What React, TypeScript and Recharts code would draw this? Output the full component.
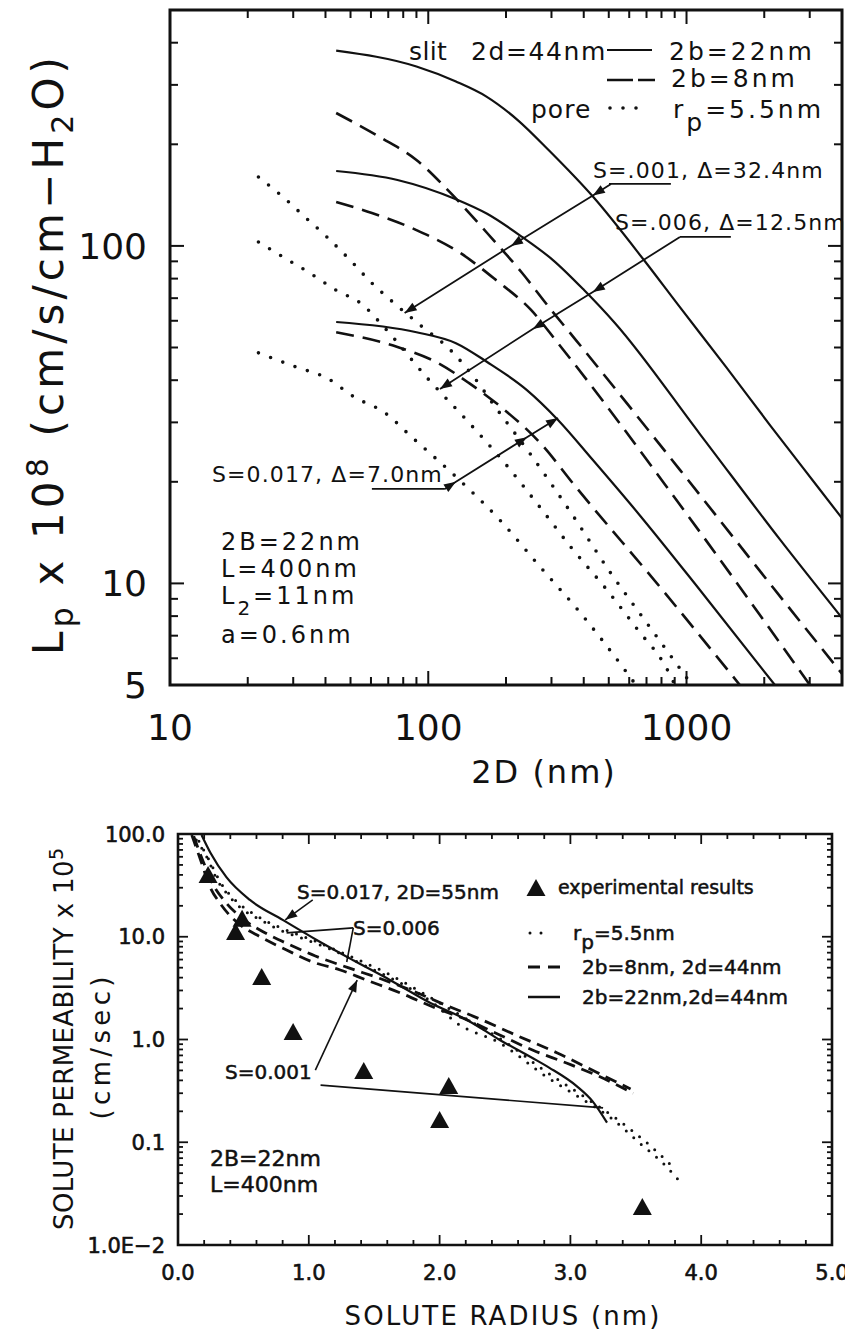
import React from 'react';
import {
  ComposedChart,
  Line,
  LineChart,
  ReferenceArea,
  Scatter,
  XAxis,
  YAxis,
} from 'recharts';

const INK = '#111';
const FONT = '"DejaVu Sans", "Liberation Sans", sans-serif';

// ---------- top panel: Lp vs 2D, log-log ----------
const TOP_X_TICKS = [10, 20, 30, 40, 50, 60, 70, 80, 90, 100, 200, 300, 400, 500, 600, 700, 800, 900, 1000, 2000, 3000];
const TOP_X_LABELS = [10, 100, 1000];
const TOP_Y_TICKS = [5, 6, 7, 8, 9, 10, 20, 30, 40, 50, 60, 70, 80, 90, 100, 200, 300, 400];
const TOP_Y_LABELS = [5, 10, 100];

// slit 2b=22nm (solid)
const SLIT22_S001_X = [44, 90, 128, 168, 222, 293, 434, 684, 922, 1422, 2115, 3142, 4000];
const SLIT22_S001_Y = [379, 340, 307, 277, 236, 192, 140, 90.8, 67.3, 43.8, 29.3, 19.8, 15.6];
const SLIT22_S006_X = [44, 76, 128, 169, 231, 304, 401, 528, 1127, 2299, 4000];
const SLIT22_S006_Y = [166.7, 156.8, 137.5, 124.5, 106.3, 90.8, 74, 59.1, 27.7, 13.5, 7.9];
const SLIT22_S017_X = [44, 90, 128, 169, 241, 318, 434, 660, 1127, 2199];
const SLIT22_S017_Y = [59.5, 55.5, 51.5, 45.3, 37.4, 30.5, 23.2, 15.9, 9.56, 5.0];

// slit 2b=8nm (dashed)
const SLIT8_S001_X = [44, 65, 90, 122, 169, 231, 293, 373, 943, 2362, 4000];
const SLIT8_S001_Y = [247.6, 210, 179.7, 143.5, 109.2, 83.1, 65.9, 52.6, 21.7, 8.93, 5.4];
const SLIT8_S006_X = [44, 60.5, 90, 133, 183, 250, 318, 943, 3004];
const SLIT8_S006_Y = [134.9, 125.2, 111.4, 95.3, 79.2, 64.6, 51.5, 17.1, 5.0];
const SLIT8_S017_X = [44, 76, 109, 144, 198, 271, 373, 789, 1609];
const SLIT8_S017_Y = [55.5, 50.2, 45, 39.2, 32.6, 26.1, 19.3, 9.76, 5.0];

// pore rp=5.5nm (dotted)
const PORE_S001_X = [22, 27.4, 33.3, 40.5, 49.8, 60.5, 73.7, 92.9, 122, 150, 183, 250, 357, 510, 696, 1049];
const PORE_S001_Y = [160, 139.6, 121.8, 106.3, 90.8, 77.6, 67.7, 58.3, 49.1, 40.9, 33.1, 24, 16.2, 10.7, 7.7, 5.0];
const PORE_S006_X = [22, 27.4, 34.8, 43.9, 55.9, 66.8, 100.6, 144, 198, 271, 357, 492, 648, 832, 902];
const PORE_S006_Y = [102.7, 92.7, 83.1, 74, 66.8, 57.9, 40.1, 29.9, 22.7, 16.8, 12.8, 9.56, 7.28, 5.65, 5.0];
const PORE_S017_X = [22, 30.7, 40.5, 51.6, 68, 86.5, 128, 189.5, 271, 387, 552, 637];
const PORE_S017_Y = [48.2, 43.8, 40.6, 35.7, 32, 27.1, 20.7, 15.4, 11.2, 8.2, 5.8, 5.0];

// annotation leader lines (label underline, then arrow to curves)
const UNDER_001_X = [501, 870];
const UNDER_001_Y = [152.6, 152.6];
const ARROW_001_X = [510, 434, 209, 81];
const ARROW_001_Y = [152.6, 141, 100, 63.3];
const ARROW_001_HEAD = [0, 1, 1, 1];
const UNDER_006_X = [943, 1485];
const UNDER_006_Y = [106.3, 106.3];
const ARROW_006_X = [943, 434, 254, 111];
const ARROW_006_Y = [106.3, 73, 56.7, 37.7];
const ARROW_006_HEAD = [0, 1, 1, 1];
const UNDER_017_X = [60.5, 116];
const UNDER_017_Y = [19.05, 19.05];
const ARROW_017_X = [116, 128, 241, 318];
const ARROW_017_Y = [19.05, 20, 27.1, 30.9];
const ARROW_017_HEAD = [0, 1, 1, 1];

// ---------- bottom panel: solute permeability vs radius ----------
const BOT_X_TICKS = [0, 0.2, 0.4, 0.6, 0.8, 1, 1.2, 1.4, 1.6, 1.8, 2, 2.2, 2.4, 2.6, 2.8, 3, 3.2, 3.4, 3.6, 3.8, 4, 4.2, 4.4, 4.6, 4.8, 5];
const BOT_Y_TICKS = [
  0.01, 0.02, 0.03, 0.04, 0.05, 0.06, 0.07, 0.08, 0.09,
  0.1, 0.2, 0.3, 0.4, 0.5, 0.6, 0.7, 0.8, 0.9,
  1, 2, 3, 4, 5, 6, 7, 8, 9,
  10, 20, 30, 40, 50, 60, 70, 80, 90, 100,
];
const BOT_Y_LABEL_VALUES = [0.01, 0.1, 1, 10, 100];
const BOT_Y_LABEL_TEXT = ['1.0E\u22122', '0.1', '1.0', '10.0', '100.0'];

const EXP_X = [0.23, 0.49, 0.44, 0.64, 0.88, 1.42, 2.07, 2.0, 3.55];
const EXP_Y = [39, 14.6, 10.9, 3.97, 1.16, 0.483, 0.345, 0.161, 0.0229];

const B_SOLID_X = [0.18, 0.25, 0.37, 0.55, 0.8, 1.06, 1.34, 1.62, 1.93, 2.21, 2.46, 2.71, 2.84, 3.05, 3.17, 3.28];
const B_SOLID_Y = [98, 65, 38, 22.8, 14.6, 9.3, 5.9, 3.8, 2.27, 1.55, 0.99, 0.66, 0.53, 0.35, 0.25, 0.155];

const B_DASH_A_X = [0.105, 0.17, 0.245, 0.32, 0.42, 0.47, 0.63, 0.83, 1.03, 1.24, 1.44, 1.7, 1.95, 2.21, 2.46, 2.71, 2.97, 3.23, 3.48];
const B_DASH_A_Y = [97.8, 57.1, 30.5, 21.3, 15, 13.2, 9.95, 7.43, 5.68, 4.75, 3.79, 2.84, 2.07, 1.55, 1.106, 0.79, 0.59, 0.431, 0.3];
const B_DASH_B_X = [0.12, 0.19, 0.27, 0.36, 0.48, 0.65, 0.85, 1.05, 1.3, 1.55, 1.8, 2.05, 2.3, 2.6, 2.9, 3.2, 3.46];
const B_DASH_B_Y = [95, 55, 32, 22, 15.5, 11.2, 8.4, 6.5, 5.0, 3.9, 2.95, 2.15, 1.6, 1.08, 0.74, 0.48, 0.33];

const B_DOT_A_X = [0.14, 0.22, 0.3, 0.37, 0.5, 0.63, 0.78, 0.88, 1.18, 1.45, 1.7, 1.95, 2.13, 2.46, 2.82, 3.1, 3.3, 3.53, 3.74, 3.84];
const B_DOT_A_Y = [87.5, 59.7, 35.6, 26.7, 18.2, 14.6, 11.6, 10.4, 7.43, 5.08, 3.55, 2.27, 1.45, 0.925, 0.431, 0.258, 0.176, 0.098, 0.057, 0.041];
const B_DOT_B_X = [0.16, 0.24, 0.33, 0.45, 0.6, 0.8, 1.0, 1.3, 1.6, 1.9, 2.2, 2.5, 2.8, 3.1, 3.35, 3.6, 3.8];
const B_DOT_B_Y = [85, 55, 33, 22, 16, 12, 9.6, 6.6, 4.4, 2.7, 1.6, 0.95, 0.5, 0.28, 0.17, 0.095, 0.055];

const B_ARROW_017_X = [1.03, 0.82];
const B_ARROW_017_Y = [22.8, 14.6];
const B_ARROW_006A_X = [1.34, 0.83];
const B_ARROW_006A_Y = [12.2, 10.9];
const B_ARROW_006B_X = [1.34, 1.29];
const B_ARROW_006B_Y = [12.2, 5.68];
const B_ARROW_001_X = [1.05, 1.37];
const B_ARROW_001_Y = [0.504, 3.79];
const B_LEADER_001_X = [1.09, 3.25];
const B_LEADER_001_Y = [0.36, 0.216];

const pts = (xs: number[], ys: number[], heads?: number[]) =>
  xs.map((x, i) => ({ x, y: ys[i], head: heads ? heads[i] === 1 : i === xs.length - 1 }));

// plot rectangles (svg coords of each chart)
const T = { left: 170, right: 842, top: 10, bottom: 685 };
const B = { left: 178, right: 832, top: 14, bottom: 425 };

const SOLID = { stroke: INK, strokeWidth: 2.2 };
const DASHED = { stroke: INK, strokeWidth: 2.6, strokeDasharray: '18 9' };
const DOTTED = { stroke: INK, strokeWidth: 3.6, strokeDasharray: '0 13', strokeLinecap: 'round' as const };
const B_DASHED = { stroke: INK, strokeWidth: 2.8, strokeDasharray: '12 7' };
const B_DOTTED = { stroke: INK, strokeWidth: 3, strokeDasharray: '0 10', strokeLinecap: 'round' as const };

function arrowDot(fallbackDeg: number) {
  return (props: any) => {
    const { cx, cy, index, points, payload } = props;
    if (!payload?.head || cx == null) return null;
    let a = (fallbackDeg * Math.PI) / 180;
    const prev = points && index > 0 ? points[index - 1] : null;
    if (prev) a = Math.atan2(cy - prev.y, cx - prev.x);
    const L = 12;
    const W = 4.5;
    const bx = cx - L * Math.cos(a);
    const by = cy - L * Math.sin(a);
    const px = -Math.sin(a) * W;
    const py = Math.cos(a) * W;
    return (
      <polygon
        key={`ah-${index}-${cx}`}
        points={`${cx},${cy} ${bx + px},${by + py} ${bx - px},${by - py}`}
        fill={INK}
      />
    );
  };
}

function TopXTick({ x, payload }: any) {
  const v = payload.value;
  const major = TOP_X_LABELS.includes(v);
  const len = major ? 14 : 8;
  return (
    <g>
      <line x1={x} x2={x} y1={T.bottom} y2={T.bottom - len} stroke={INK} strokeWidth={2} />
      <line x1={x} x2={x} y1={T.top} y2={T.top + len} stroke={INK} strokeWidth={2} />
      {major && (
        <text x={x} y={T.bottom + 55} textAnchor="middle" fontSize={36} fontFamily={FONT} fill={INK}>
          {v}
        </text>
      )}
    </g>
  );
}

function TopYTick({ y, payload }: any) {
  const v = payload.value;
  const major = v === 10 || v === 100;
  const len = major ? 14 : 8;
  return (
    <g>
      <line x1={T.left} x2={T.left + len} y1={y} y2={y} stroke={INK} strokeWidth={2} />
      <line x1={T.right} x2={T.right - len} y1={y} y2={y} stroke={INK} strokeWidth={2} />
      {TOP_Y_LABELS.includes(v) && (
        <text x={147} y={y + 13} textAnchor="end" fontSize={36} fontFamily={FONT} fill={INK}>
          {v}
        </text>
      )}
    </g>
  );
}

function BotXTick({ x, payload }: any) {
  const v = payload.value;
  const major = Number.isInteger(v);
  const len = major ? 10 : 5;
  return (
    <g>
      <line x1={x} x2={x} y1={B.bottom} y2={B.bottom - len} stroke={INK} strokeWidth={1.8} />
      <line x1={x} x2={x} y1={B.top} y2={B.top + len} stroke={INK} strokeWidth={1.8} />
      {major && (
        <text x={x} y={B.bottom + 35} textAnchor="middle" fontSize={21} fontFamily={FONT} fill={INK} stroke={INK} strokeWidth={0.6}>
          {v.toFixed(1)}
        </text>
      )}
    </g>
  );
}

function BotYTick({ y, payload }: any) {
  const v = payload.value;
  const li = BOT_Y_LABEL_VALUES.indexOf(v);
  const len = li >= 0 ? 10 : 5;
  return (
    <g>
      <line x1={B.left} x2={B.left + len} y1={y} y2={y} stroke={INK} strokeWidth={1.8} />
      <line x1={B.right} x2={B.right - len} y1={y} y2={y} stroke={INK} strokeWidth={1.8} />
      {li >= 0 && (
        <text x={165} y={y + 7.5} textAnchor="end" fontSize={21} fontFamily={FONT} fill={INK} stroke={INK} strokeWidth={0.6}>
          {BOT_Y_LABEL_TEXT[li]}
        </text>
      )}
    </g>
  );
}

function Triangle({ cx, cy }: any) {
  if (cx == null) return null;
  return <polygon points={`${cx},${cy - 10} ${cx - 9.5},${cy + 7} ${cx + 9.5},${cy + 7}`} fill={INK} />;
}

function TopChart() {
  const curve = (key: string, xs: number[], ys: number[], style: any) => (
    <Line
      key={key}
      data={pts(xs, ys)}
      dataKey="y"
      type="monotone"
      dot={false}
      activeDot={false}
      isAnimationActive={false}
      {...style}
    />
  );
  const arrow = (key: string, xs: number[], ys: number[], heads: number[], deg: number) => (
    <Line
      key={key}
      data={pts(xs, ys, heads)}
      dataKey="y"
      type="linear"
      stroke={INK}
      strokeWidth={1.8}
      dot={arrowDot(deg)}
      activeDot={false}
      isAnimationActive={false}
    />
  );
  return (
    <LineChart width={845} height={800} margin={{ top: 10, right: 3, bottom: 65, left: 0 }}>
      <XAxis
        type="number"
        dataKey="x"
        scale="log"
        domain={[10, 4000]}
        allowDataOverflow
        ticks={TOP_X_TICKS}
        interval={0}
        tick={(p: any) => <TopXTick {...p} />}
        tickLine={false}
        axisLine={false}
        height={50}
      />
      <YAxis
        type="number"
        dataKey="y"
        scale="log"
        domain={[5, 500]}
        allowDataOverflow
        ticks={TOP_Y_TICKS}
        interval={0}
        tick={(p: any) => <TopYTick {...p} />}
        tickLine={false}
        axisLine={false}
        width={170}
      />
      <ReferenceArea x1={10} x2={4000} y1={5} y2={500} fill="none" stroke={INK} strokeWidth={3} />
      {curve('a1', SLIT22_S001_X, SLIT22_S001_Y, SOLID)}
      {curve('a2', SLIT22_S006_X, SLIT22_S006_Y, SOLID)}
      {curve('a3', SLIT22_S017_X, SLIT22_S017_Y, SOLID)}
      {curve('b1', SLIT8_S001_X, SLIT8_S001_Y, DASHED)}
      {curve('b2', SLIT8_S006_X, SLIT8_S006_Y, DASHED)}
      {curve('b3', SLIT8_S017_X, SLIT8_S017_Y, DASHED)}
      {curve('c1', PORE_S001_X, PORE_S001_Y, DOTTED)}
      {curve('c2', PORE_S006_X, PORE_S006_Y, DOTTED)}
      {curve('c3', PORE_S017_X, PORE_S017_Y, DOTTED)}
      {arrow('u1', UNDER_001_X, UNDER_001_Y, [0, 0], 0)}
      {arrow('u2', UNDER_006_X, UNDER_006_Y, [0, 0], 0)}
      {arrow('u3', UNDER_017_X, UNDER_017_Y, [0, 0], 0)}
      {arrow('r1', ARROW_001_X, ARROW_001_Y, ARROW_001_HEAD, 148)}
      {arrow('r2', ARROW_006_X, ARROW_006_Y, ARROW_006_HEAD, 148)}
      {arrow('r3', ARROW_017_X, ARROW_017_Y, ARROW_017_HEAD, -32)}
    </LineChart>
  );
}

function BottomChart() {
  const curve = (key: string, xs: number[], ys: number[], style: any) => (
    <Line
      key={key}
      data={pts(xs, ys)}
      dataKey="y"
      type="monotone"
      dot={false}
      activeDot={false}
      isAnimationActive={false}
      {...style}
    />
  );
  const arrow = (key: string, xs: number[], ys: number[], heads: number[], deg: number) => (
    <Line
      key={key}
      data={pts(xs, ys, heads)}
      dataKey="y"
      type="linear"
      stroke={INK}
      strokeWidth={1.6}
      dot={arrowDot(deg)}
      activeDot={false}
      isAnimationActive={false}
    />
  );
  return (
    <ComposedChart width={845} height={512} margin={{ top: 14, right: 13, bottom: 47, left: 0 }}>
      <XAxis
        type="number"
        dataKey="x"
        domain={[0, 5]}
        allowDataOverflow
        ticks={BOT_X_TICKS}
        interval={0}
        tick={(p: any) => <BotXTick {...p} />}
        tickLine={false}
        axisLine={false}
        height={40}
      />
      <YAxis
        type="number"
        dataKey="y"
        scale="log"
        domain={[0.01, 100]}
        allowDataOverflow
        ticks={BOT_Y_TICKS}
        interval={0}
        tick={(p: any) => <BotYTick {...p} />}
        tickLine={false}
        axisLine={false}
        width={178}
      />
      <ReferenceArea x1={0} x2={5} y1={0.01} y2={100} fill="none" stroke={INK} strokeWidth={2.6} />
      {curve('s', B_SOLID_X, B_SOLID_Y, SOLID)}
      {curve('da', B_DASH_A_X, B_DASH_A_Y, B_DASHED)}
      {curve('db', B_DASH_B_X, B_DASH_B_Y, B_DASHED)}
      {curve('pa', B_DOT_A_X, B_DOT_A_Y, B_DOTTED)}
      {curve('pb', B_DOT_B_X, B_DOT_B_Y, B_DOTTED)}
      {arrow('a17', B_ARROW_017_X, B_ARROW_017_Y, [0, 1], 144)}
      {arrow('a6a', B_ARROW_006A_X, B_ARROW_006A_Y, [0, 0], 0)}
      {arrow('a6b', B_ARROW_006B_X, B_ARROW_006B_Y, [0, 0], 0)}
      {arrow('a1', B_ARROW_001_X, B_ARROW_001_Y, [0, 1], -65)}
      {arrow('l1', B_LEADER_001_X, B_LEADER_001_Y, [0, 0], 0)}
      <Scatter data={pts(EXP_X, EXP_Y)} dataKey="y" shape={(p: any) => <Triangle {...p} />} isAnimationActive={false} />
    </ComposedChart>
  );
}

function Overlay() {
  const t = { fontFamily: FONT, fill: INK };
  const b = { fontFamily: FONT, fill: INK, stroke: INK, strokeWidth: 0.5 };
  return (
    <svg
      width={845}
      height={1332}
      style={{ position: 'absolute', left: 0, top: 0, pointerEvents: 'none' }}
    >
      {/* top panel titles */}
      <text transform="translate(63,356) rotate(-90)" textAnchor="middle" fontSize={42} textLength={598} lengthAdjust="spacing" {...t}>
        L<tspan dy={10} fontSize={32}>p</tspan>
        <tspan dy={-10}> x 10</tspan>
        <tspan dy={-15} fontSize={30}>8</tspan>
        <tspan dy={15}> (cm/s/cm{'\u2212'}H</tspan>
        <tspan dy={10} fontSize={30}>2</tspan>
        <tspan dy={-10}>O)</tspan>
      </text>
      <text x={544} y={783} textAnchor="middle" fontSize={32} letterSpacing={2} {...t}>2D (nm)</text>

      {/* top legend */}
      <text x={409} y={60} fontSize={25} letterSpacing={0.4} {...t}>slit</text>
      <text x={471} y={60} fontSize={25} letterSpacing={1.6} {...t}>2d=44nm</text>
      <line x1={607} x2={652} y1={50} y2={50} stroke={INK} strokeWidth={2.2} />
      <text x={669} y={60} fontSize={25} letterSpacing={3} {...t}>2b=22nm</text>
      <line x1={607} x2={655} y1={80} y2={80} stroke={INK} strokeWidth={2.6} strokeDasharray="26 5 17" />
      <text x={671} y={87} fontSize={25} letterSpacing={3} {...t}>2b=8nm</text>
      <text x={531} y={118} fontSize={25} letterSpacing={1} {...t}>pore</text>
      <line x1={610} x2={640} y1={108} y2={108} stroke={INK} strokeWidth={3.6} strokeDasharray="0 13" strokeLinecap="round" />
      <text x={673} y={118} fontSize={25} letterSpacing={3} {...t}>
        r<tspan dy={13}>p</tspan>
        <tspan dy={-13}>=5.5nm</tspan>
      </text>

      {/* top annotations */}
      <text x={593} y={178} fontSize={22} letterSpacing={1.1} {...t}>S=.001, {'\u0394'}=32.4nm</text>
      <text x={615} y={230} fontSize={22} letterSpacing={1.1} {...t}>S=.006, {'\u0394'}=12.5nm</text>
      <text x={212} y={482} fontSize={22} letterSpacing={1.1} {...t}>S=0.017, {'\u0394'}=7.0nm</text>
      <text x={221} y={550} fontSize={24} letterSpacing={3} {...t}>2B=22nm</text>
      <text x={221} y={577} fontSize={24} letterSpacing={3} {...t}>L=400nm</text>
      <text x={221} y={604} fontSize={24} letterSpacing={3} {...t}>
        L<tspan dy={11} fontSize={20}>2</tspan>
        <tspan dy={-11}>=11nm</tspan>
      </text>
      <text x={221} y={643} fontSize={24} letterSpacing={3} {...t}>a=0.6nm</text>

      {/* bottom panel titles */}
      <text transform="translate(73,1039) rotate(-90)" textAnchor="middle" fontSize={26} textLength={382} lengthAdjust="spacing" {...t}>
        SOLUTE PERMEABILITY  x 10<tspan dy={-10} fontSize={19}>5</tspan>
      </text>
      <text transform="translate(110,1048) rotate(-90)" textAnchor="middle" fontSize={26} textLength={143} lengthAdjust="spacing" {...t}>
        (cm/sec)
      </text>
      <text x={502} y={1325} textAnchor="middle" fontSize={26} textLength={315} lengthAdjust="spacing" {...t}>
        SOLUTE RADIUS (nm)
      </text>

      {/* bottom legend */}
      <polygon points="536,879 526.5,896 545.5,896" fill={INK} />
      <text x={558} y={894} fontSize={19} {...b}>experimental results</text>
      <line x1={530} x2={552} y1={933} y2={933} stroke={INK} strokeWidth={3} strokeDasharray="0 11" strokeLinecap="round" />
      <text x={573} y={940} fontSize={20} {...b}>
        r<tspan dy={9}>p</tspan>
        <tspan dy={-9}>=5.5nm</tspan>
      </text>
      <line x1={528} x2={560} y1={967} y2={967} stroke={INK} strokeWidth={3} strokeDasharray="12 8" />
      <text x={582} y={974} fontSize={20} {...b}>2b=8nm, 2d=44nm</text>
      <line x1={528} x2={560} y1={997} y2={997} stroke={INK} strokeWidth={2.5} />
      <text x={582} y={1004} fontSize={20} {...b}>2b=22nm,2d=44nm</text>

      {/* bottom annotations */}
      <text x={297} y={899} fontSize={20} {...b}>S=0.017, 2D=55nm</text>
      <text x={353} y={935} fontSize={20} {...b}>S=0.006</text>
      <text x={225} y={1079} fontSize={20} {...b}>S=0.001</text>
      <text x={210} y={1166} fontSize={22} {...b}>2B=22nm</text>
      <text x={210} y={1192} fontSize={22} {...b}>L=400nm</text>
    </svg>
  );
}

export default function App() {
  return (
    <div
      style={{
        position: 'absolute',
        left: 0,
        top: 0,
        width: 845,
        height: 1332,
        background: '#fff',
        overflow: 'hidden',
      }}
    >
      <div style={{ position: 'absolute', left: 0, top: 0 }}>
        <TopChart />
      </div>
      <div style={{ position: 'absolute', left: 0, top: 820 }}>
        <BottomChart />
      </div>
      <Overlay />
    </div>
  );
}
